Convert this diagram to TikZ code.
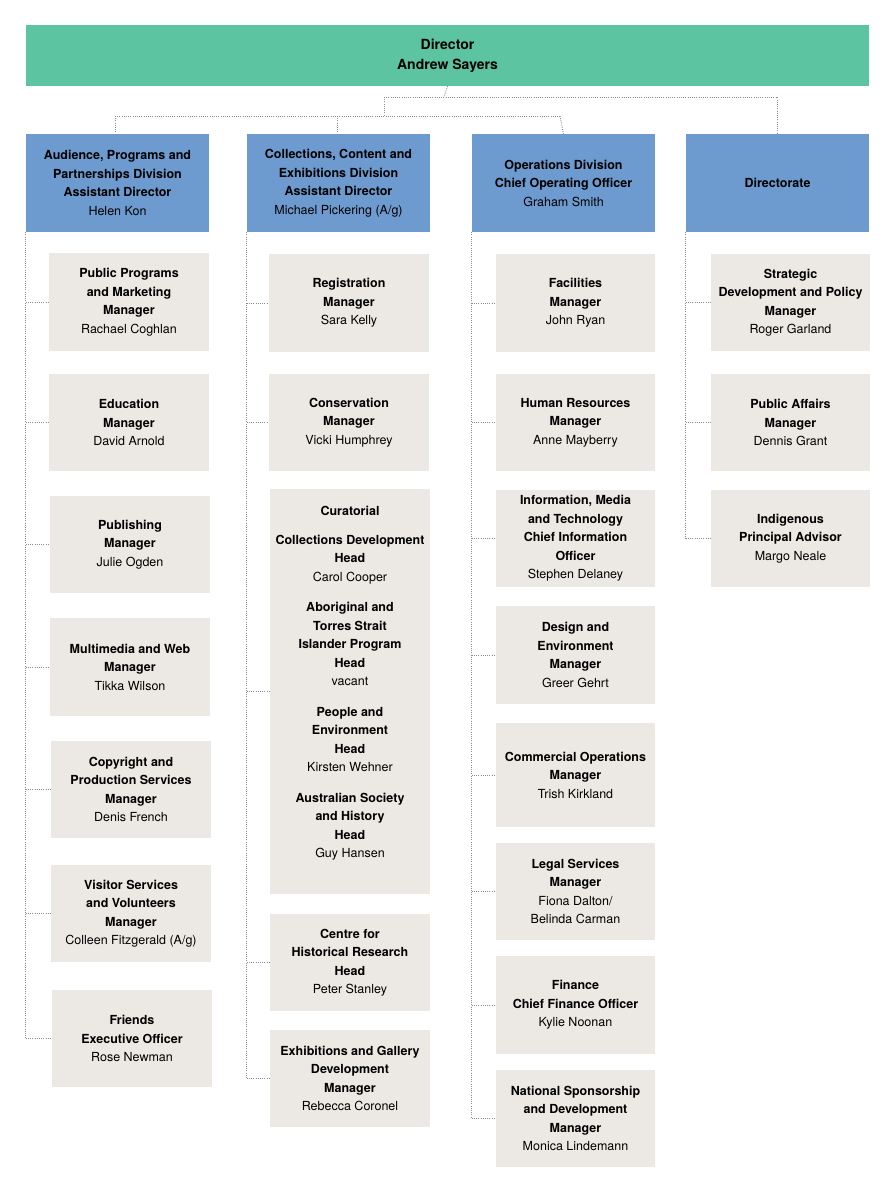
\documentclass[tikz,border=0pt]{standalone}
\usepackage{fontspec}
\setmainfont{TeX Gyre Heros}
\begin{document}
\begin{tikzpicture}[x=1pt,y=-1pt,
  box/.style={inner sep=0pt,align=center,font=\fontsize{12.5}{18.5}\selectfont},
  gbox/.style={box,fill=grayb},
  bbox/.style={box,fill=blueb},
  conn/.style={draw=black!45,line width=0.9pt,dash pattern=on 1pt off 1.2pt}]
\definecolor{grayb}{HTML}{ECE9E4}
\definecolor{blueb}{HTML}{6D9BCF}
\definecolor{greenb}{HTML}{5CC4A1}
\newcommand\bx[7]{\node[#1, minimum width={#5-#3}, minimum height={#6-#4}] (#2) at ({(#3+#5)/2},{(#4+#6)/2}) {#7};}
\newcommand\bb[1]{\textbf{#1}}
\fill[white] (0,0) rectangle (894,1200);
\bx{box,fill=greenb,font=\fontsize{14}{20}\selectfont}{dir}{26}{25}{869}{86}{\bb{Director}\\\bb{Andrew Sayers}}
\bx{bbox}{b1}{26}{134}{209}{232}{\bb{Audience, Programs and}\\\bb{Partnerships Division}\\\bb{Assistant Director}\\Helen Kon}
\bx{bbox}{b2}{247}{134}{430}{232}{\bb{Collections, Content and}\\\bb{Exhibitions Division}\\\bb{Assistant Director}\\Michael Pickering (A/g)}
\bx{bbox}{b3}{472}{134}{655}{232}{\bb{Operations Division}\\\bb{Chief Operating Officer}\\Graham Smith}
\bx{bbox}{b4}{686}{134}{869}{232}{\bb{Directorate}}
% column 1
\bx{gbox}{a1}{49}{253}{209}{351}{\bb{Public Programs}\\\bb{and Marketing}\\\bb{Manager}\\Rachael Coghlan}
\bx{gbox}{a2}{49}{374}{209}{471}{\bb{Education}\\\bb{Manager}\\David Arnold}
\bx{gbox}{a3}{50}{496}{210}{593}{\bb{Publishing}\\\bb{Manager}\\Julie Ogden}
\bx{gbox}{a4}{50}{618}{210}{716}{\bb{Multimedia and Web}\\\bb{Manager}\\Tikka Wilson}
\bx{gbox}{a5}{51}{741}{211}{838}{\bb{Copyright and}\\\bb{Production Services}\\\bb{Manager}\\Denis French}
\bx{gbox}{a6}{51}{865}{211}{962}{\bb{Visitor Services}\\\bb{and Volunteers}\\\bb{Manager}\\Colleen Fitzgerald (A/g)}
\bx{gbox}{a7}{52}{990}{212}{1087}{\bb{Friends}\\\bb{Executive Officer}\\Rose Newman}
% column 2
\bx{gbox}{c1}{269}{254}{429}{352}{\bb{Registration}\\\bb{Manager}\\Sara Kelly}
\bx{gbox}{c2}{269}{374}{429}{471}{\bb{Conservation}\\\bb{Manager}\\Vicki Humphrey}
\bx{gbox}{c3}{270}{489}{430}{894}{}
\node[box,anchor=north] (cur) at (350,506) {\bb{Curatorial}\\[10pt]\bb{Collections Development}\\\bb{Head}\\Carol Cooper\\[12pt]\bb{Aboriginal and}\\\bb{Torres Strait}\\\bb{Islander Program}\\\bb{Head}\\vacant\\[12pt]\bb{People and}\\\bb{Environment}\\\bb{Head}\\Kirsten Wehner\\[12pt]\bb{Australian Society}\\\bb{and History}\\\bb{Head}\\Guy Hansen};
\bx{gbox}{c4}{270}{914}{430}{1011}{\bb{Centre for}\\\bb{Historical Research}\\\bb{Head}\\Peter Stanley}
\bx{gbox}{c5}{270}{1030}{430}{1127}{\bb{Exhibitions and Gallery}\\\bb{Development}\\\bb{Manager}\\Rebecca Coronel}
% column 3
\bx{gbox}{d1}{496}{254}{655}{352}{\bb{Facilities}\\\bb{Manager}\\John Ryan}
\bx{gbox}{d2}{496}{374}{655}{471}{\bb{Human Resources}\\\bb{Manager}\\Anne Mayberry}
\bx{gbox}{d3}{496}{490}{655}{587}{\bb{Information, Media}\\\bb{and Technology}\\\bb{Chief Information}\\\bb{Officer}\\Stephen Delaney}
\bx{gbox}{d4}{496}{606}{655}{704}{\bb{Design and}\\\bb{Environment}\\\bb{Manager}\\Greer Gehrt}
\bx{gbox}{d5}{496}{723}{655}{827}{\bb{Commercial Operations}\\\bb{Manager}\\Trish Kirkland}
\bx{gbox}{d6}{496}{843}{655}{940}{\bb{Legal Services}\\\bb{Manager}\\Fiona Dalton/\\Belinda Carman}
\bx{gbox}{d7}{496}{956}{655}{1054}{\bb{Finance}\\\bb{Chief Finance Officer}\\Kylie Noonan}
\bx{gbox}{d8}{496}{1070}{655}{1167}{\bb{National Sponsorship}\\\bb{and Development}\\\bb{Manager}\\Monica Lindemann}
% column 4
\bx{gbox}{e1}{711}{254}{870}{351}{\bb{Strategic}\\\bb{Development and Policy}\\\bb{Manager}\\Roger Garland}
\bx{gbox}{e2}{711}{374}{870}{471}{\bb{Public Affairs}\\\bb{Manager}\\Dennis Grant}
\bx{gbox}{e3}{711}{490}{870}{587}{\bb{Indigenous}\\\bb{Principal Advisor}\\Margo Neale}
% top connectors
\coordinate (j1) at (444,97);
\coordinate (j2) at (384,116);
\draw[conn] (dir.south) -- (j1);
\draw[conn] (j1 -| j2) -- (j1 -| b4.north) -- (b4.north);
\draw[conn] (j1 -| j2) -- (j2);
\draw[conn] (j2 -| 115,0) -- (j2 -| 560,0);
\draw[conn] (115,116) -- (115,134);
\draw[conn] (b2.north) ++(-1.5,0) coordinate (t2) (t2 |- j2) -- (t2);
\draw[conn] (560,116) -- (b3.north);
% column connectors
\draw[conn] (b1.south west) -- (b1.south west |- a7.west);
\foreach \n in {a1,a2,a3,a4,a5,a6,a7} \draw[conn] (b1.south west |- \n.west) -- (\n.west);
\draw[conn] (b2.south west) -- (b2.south west |- c5.west);
\foreach \n in {c1,c2,c3,c4,c5} \draw[conn] (b2.south west |- \n.west) -- (\n.west);
\draw[conn] (b3.south west) -- (b3.south west |- d8.west);
\foreach \n in {d1,d2,d3,d4,d5,d6,d7,d8} \draw[conn] (b3.south west |- \n.west) -- (\n.west);
\draw[conn] (b4.south west) -- (b4.south west |- e3.west);
\foreach \n in {e1,e2,e3} \draw[conn] (b4.south west |- \n.west) -- (\n.west);
\end{tikzpicture}
\end{document}
